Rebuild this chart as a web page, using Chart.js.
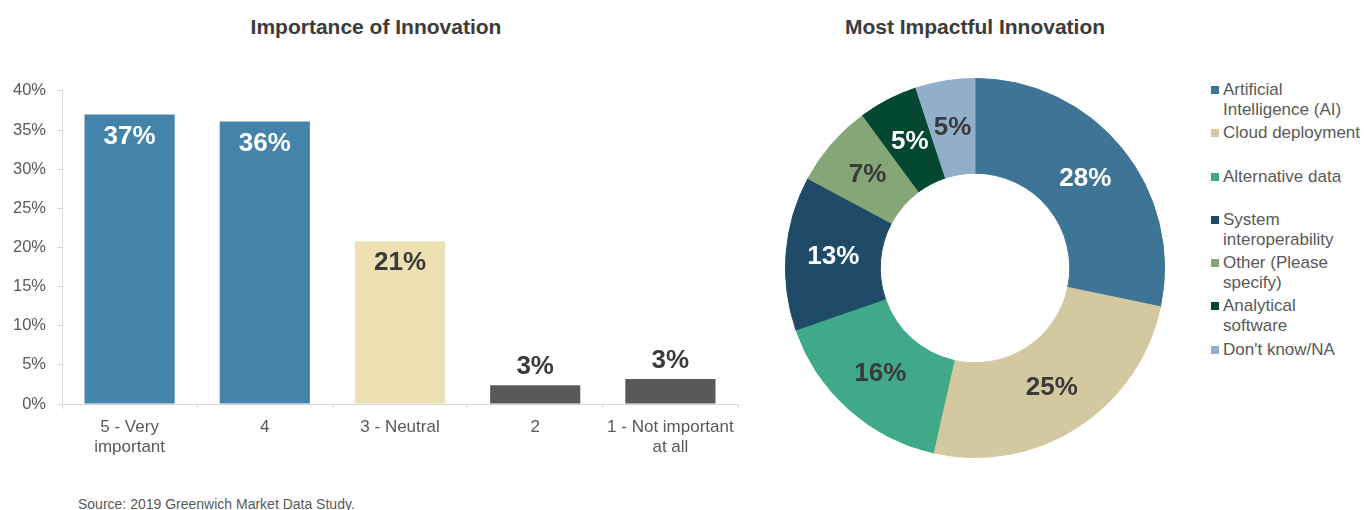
<!DOCTYPE html>
<html>
<head>
<meta charset="utf-8">
<script src="https://cdn.jsdelivr.net/npm/chart.js@4/dist/chart.umd.min.js"></script>
<style>
  body { margin: 0; background: #fff; font-family: Arial, "Liberation Sans", sans-serif; }
  #page { position: relative; width: 1367px; height: 510px; overflow: hidden; }
  .title { position: absolute; top: 15px; font-weight: bold; font-size: 21px; color: #3b3b3b; transform: translateX(-50%); white-space: nowrap; }
  #barBox { position: absolute; left: 0; top: 70px; width: 750px; height: 390px; }
  #donutBox { position: absolute; left: 785px; top: 78px; width: 380px; height: 380px; }
  #legend { position: absolute; left: 1211px; top: 80px; color: #595959; font-size: 17px; line-height: 20px; }
  #legend .item { position: relative; height: 43.3px; padding-left: 12px; white-space: nowrap; }
  #legend .sw { position: absolute; left: 0; top: 6px; width: 8px; height: 8px; }
  #source { position: absolute; left: 78px; top: 496px; font-size: 14px; color: #595959; }
</style>
</head>
<body>
<div id="page">
  <div class="title" style="left:376px">Importance of Innovation</div>
  <div class="title" style="left:975px">Most Impactful Innovation</div>
  <div id="barBox"><canvas id="bar"></canvas></div>
  <div id="donutBox"><canvas id="donut"></canvas></div>
  <div id="legend"></div>
  <div id="source">Source: 2019 Greenwich Market Data Study.</div>
</div>
<script>
// bar chart data
const barCategories = [['5 - Very', 'important'], '4', '3 - Neutral', '2', ['1 - Not important', 'at all']];
const barValues = [37, 36.1, 20.8, 2.4, 3.2];
const barLabels = ['37%', '36%', '21%', '3%', '3%'];
const yMin = 0, yMax = 40, yStep = 5;

// doughnut data
const donutCategories = [
  ['Artificial', 'Intelligence (AI)'],
  ['Cloud deployment'],
  ['Alternative data'],
  ['System', 'interoperability'],
  ['Other (Please', 'specify)'],
  ['Analytical', 'software'],
  ["Don't know/NA"]
];
const donutValues = [28, 25, 16, 13, 7, 5, 5];
const donutLabels = ['28%', '25%', '16%', '13%', '7%', '5%', '5%'];

// styles
const BAR_COLORS = ['#4584AA', '#4584AA', '#EDE1B3', '#595959', '#595959'];
const BAR_TEXT = ['#ffffff', '#ffffff', '#3a3a3a', '#3a3a3a', '#3a3a3a'];
const DONUT_COLORS = ['#3E7596', '#D3C8A0', '#40A98A', '#1F4B68', '#85A677', '#02472F', '#92AFC9'];
const DONUT_TEXT = ['#ffffff', '#3a3a3a', '#3a3a3a', '#ffffff', '#3a3a3a', '#ffffff', '#3a3a3a'];
const FONT = 'Arial, "Liberation Sans", sans-serif';
const AXIS = '#d9d9d9';

Chart.defaults.font.family = FONT;
Chart.defaults.color = '#595959';

// value labels on bars: inside near the top for tall bars, above for short ones
const barValueLabels = {
  id: 'barValueLabels',
  afterDatasetsDraw(chart) {
    const {ctx} = chart;
    const meta = chart.getDatasetMeta(0);
    ctx.save();
    ctx.font = 'bold 26px ' + FONT;
    ctx.textAlign = 'center';
    ctx.textBaseline = 'middle';
    meta.data.forEach((el, i) => {
      const inside = barValues[i] > 10;
      ctx.fillStyle = BAR_TEXT[i];
      ctx.fillText(barLabels[i], el.x, inside ? el.y + 22 : el.y - 18);
    });
    ctx.restore();
  }
};

const donutValueLabels = {
  id: 'donutValueLabels',
  afterDatasetsDraw(chart) {
    const {ctx} = chart;
    const meta = chart.getDatasetMeta(0);
    ctx.save();
    ctx.font = 'bold 26px ' + FONT;
    ctx.textAlign = 'center';
    ctx.textBaseline = 'middle';
    meta.data.forEach((el, i) => {
      const p = el.tooltipPosition();
      ctx.fillStyle = DONUT_TEXT[i];
      ctx.fillText(donutLabels[i], p.x, p.y);
    });
    ctx.restore();
  }
};

new Chart(document.getElementById('bar'), {
  type: 'bar',
  data: {
    labels: barCategories,
    datasets: [{
      data: barValues,
      backgroundColor: BAR_COLORS,
      borderWidth: 0,
      barPercentage: 0.667,
      categoryPercentage: 1
    }]
  },
  options: {
    responsive: true,
    maintainAspectRatio: false,
    animation: false,
    layout: { padding: { top: 10, right: 12, bottom: 0, left: 0 } },
    plugins: { legend: { display: false }, tooltip: { enabled: false } },
    scales: {
      x: {
        grid: { drawOnChartArea: false, drawTicks: true, tickLength: 5, color: AXIS, offset: true },
        border: { color: AXIS },
        ticks: { font: { size: 17 }, padding: 8, maxRotation: 0, color: '#595959' },
        afterFit(scale) { scale.height = 56; }
      },
      y: {
        min: yMin,
        max: yMax,
        grid: { drawOnChartArea: false, drawTicks: true, tickLength: 5, color: AXIS },
        border: { color: AXIS },
        ticks: { stepSize: yStep, font: { size: 16.5 }, padding: 11, color: '#595959', callback: v => v + '%' },
        afterFit(scale) { scale.width = 62; }
      }
    }
  },
  plugins: [barValueLabels]
});

new Chart(document.getElementById('donut'), {
  type: 'doughnut',
  data: {
    labels: donutCategories,
    datasets: [{
      data: donutValues,
      backgroundColor: DONUT_COLORS,
      borderColor: DONUT_COLORS,
      borderWidth: 1
    }]
  },
  options: {
    responsive: true,
    maintainAspectRatio: false,
    animation: false,
    cutout: '50%',
    plugins: { legend: { display: false }, tooltip: { enabled: false } }
  },
  plugins: [donutValueLabels]
});

// legend on the right
const legend = document.getElementById('legend');
donutCategories.forEach((lines, i) => {
  const item = document.createElement('div');
  item.className = 'item';
  item.innerHTML = `<span class="sw" style="background:${DONUT_COLORS[i]}"></span>` + lines.join('<br>');
  legend.appendChild(item);
});
</script>
</body>
</html>
